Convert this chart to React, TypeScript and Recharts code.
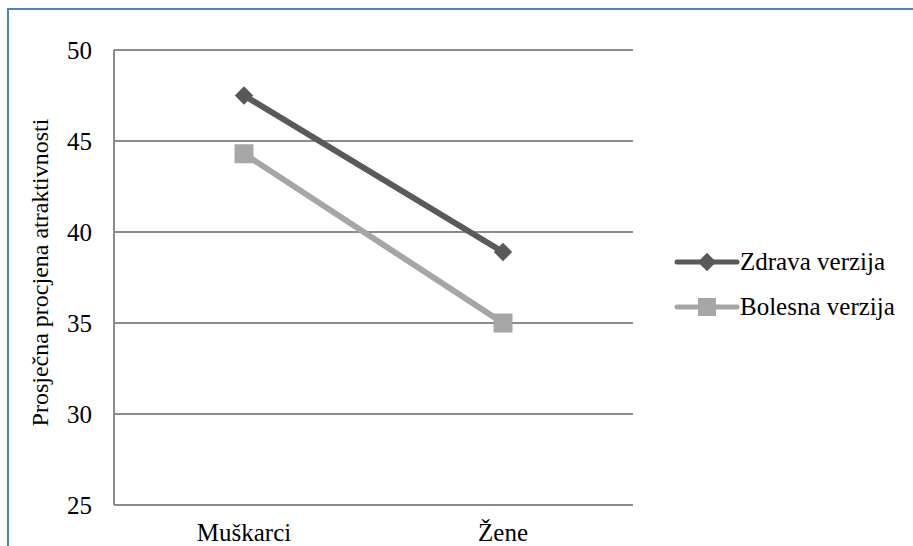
import React from "react";
import { CartesianGrid, Line, LineChart, XAxis, YAxis } from "recharts";

const categories = ["Muškarci", "Žene"];
const zdrava = [47.5, 38.9];
const bolesna = [44.3, 35.0];
const yTicks = [25, 30, 35, 40, 45, 50];

const seriesNames = { zdrava: "Zdrava verzija", bolesna: "Bolesna verzija" };
const darkGray = "#595959";
const lightGray = "#a6a6a6";
const font = "Tinos, 'Times New Roman', Times, 'Liberation Serif', 'DejaVu Serif', serif";

const data = categories.map((name, i) => ({ name, zdrava: zdrava[i], bolesna: bolesna[i] }));

const Diamond = (props: any) => {
  const { cx, cy, fill } = props;
  if (cx == null || cy == null) return null;
  return <rect x={cx - 6.5} y={cy - 6.5} width={13} height={13} fill={fill} transform={`rotate(45 ${cx} ${cy})`} />;
};

const Square = (props: any) => {
  const { cx, cy, fill } = props;
  if (cx == null || cy == null) return null;
  return <rect x={cx - 9.5} y={cy - 9.5} width={19} height={19} fill={fill} />;
};

function LegendBox() {
  const rows = [
    { name: seriesNames.zdrava, color: darkGray, shape: "diamond" },
    { name: seriesNames.bolesna, color: lightGray, shape: "square" }
  ];
  return (
    <div style={{ position: "absolute", left: 674, top: 239, fontFamily: font, fontSize: 25, color: "#000" }}>
      {rows.map((r) => (
        <div key={r.name} style={{ display: "flex", alignItems: "center", height: 45 }}>
          <svg width={66} height={24} style={{ display: "block" }}>
            <line x1={3} y1={12} x2={63} y2={12} stroke={r.color} strokeWidth={5} strokeLinecap="round" />
            {r.shape === "diamond" ? (
              <rect x={26.5} y={5.5} width={13} height={13} fill={r.color} transform="rotate(45 33 12)" />
            ) : (
              <rect x={24} y={3} width={18} height={18} fill={r.color} />
            )}
          </svg>
          <span style={{ whiteSpace: "nowrap", lineHeight: 1 }}>{r.name}</span>
        </div>
      ))}
    </div>
  );
}

export default function App() {
  return (
    <div style={{ position: "absolute", left: 0, top: 0, width: 913, height: 546, overflow: "hidden", background: "#fff", fontFamily: font }}>
      <div
        style={{
          position: "absolute",
          left: 7,
          top: 8,
          width: 960,
          height: 600,
          borderLeft: "2.5px solid #4f81bd",
          borderTop: "2.5px solid #4f81bd"
        }}
      />
      <div style={{ position: "absolute", left: 0, top: 0 }}>
        <LineChart width={913} height={546} data={data} margin={{ top: 50, right: 280, left: 10, bottom: 0 }}>
          <CartesianGrid vertical={false} stroke="#8c8c8c" strokeWidth={2} />
          <XAxis
            dataKey="name"
            height={41}
            interval={0}
            padding={{ left: 130, right: 130 }}
            axisLine={{ stroke: "#8c8c8c", strokeWidth: 2 }}
            tickLine={false}
            tickSize={0}
            tickMargin={18}
            tick={{ fill: "#000", fontSize: 25, fontFamily: font }}
          />
          <YAxis
            width={104}
            domain={[25, 50]}
            ticks={yTicks}
            interval={0}
            axisLine={{ stroke: "#8c8c8c", strokeWidth: 2 }}
            tickLine={false}
            tickSize={0}
            tickMargin={22}
            tick={{ fill: "#000", fontSize: 25, fontFamily: font }}
            label={{
              value: "Prosječna procjena atraktivnosti",
              angle: -90,
              position: "insideLeft",
              offset: 29,
              dy: -5,
              style: { textAnchor: "middle", fill: "#000", fontSize: 24, fontFamily: font }
            }}
          />
          <Line
            dataKey="zdrava"
            name={seriesNames.zdrava}
            stroke={darkGray}
            strokeWidth={6}
            fill={darkGray}
            dot={<Diamond fill={darkGray} />}
            activeDot={false}
            isAnimationActive={false}
          />
          <Line
            dataKey="bolesna"
            name={seriesNames.bolesna}
            stroke={lightGray}
            strokeWidth={6}
            fill={lightGray}
            dot={<Square fill={lightGray} />}
            activeDot={false}
            isAnimationActive={false}
          />
        </LineChart>
      </div>
      <LegendBox />
    </div>
  );
}
